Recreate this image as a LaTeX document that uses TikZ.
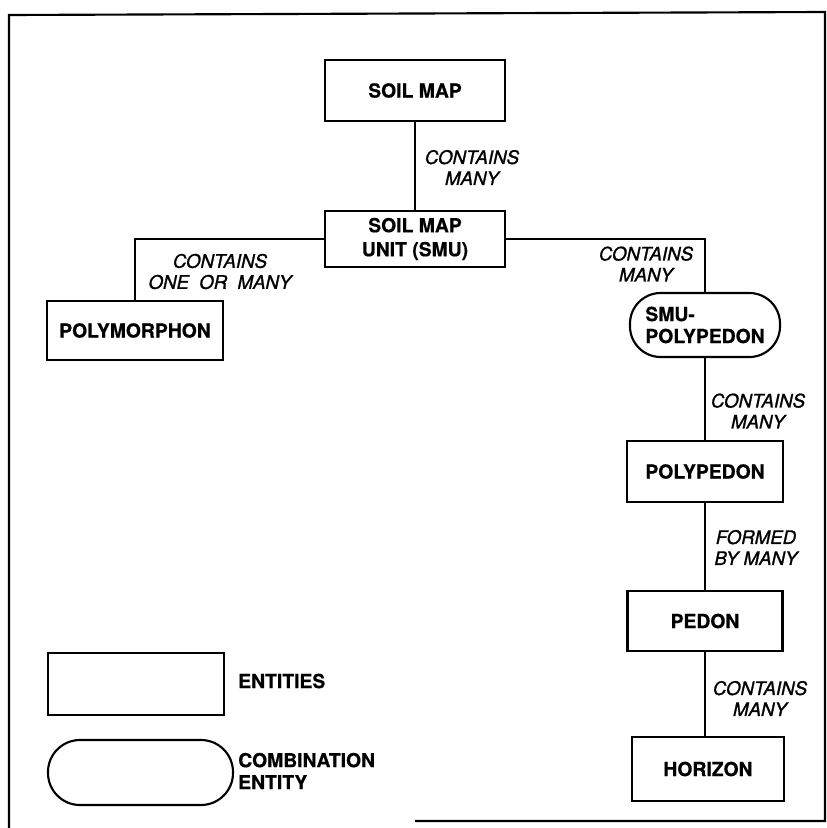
\documentclass[tikz,border=0pt]{standalone}
\usepackage{fontspec}
\setmainfont{TeX Gyre Heros}
\newfontface\relfont{TeX Gyre Heros Italic}[FakeBold=1.2]
\newfontface\entfont{TeX Gyre Heros Bold}[FakeBold=0.6]
\begin{document}
\begin{tikzpicture}[x=0.75pt,y=-0.75pt,
  entity/.style={draw, line width=1.6pt, inner sep=0pt, align=center,
    font=\fontsize{14.5}{18}\entfont},
  combo/.style={entity, rounded corners=23pt},
  rel/.style={inner sep=0pt, align=center, font=\fontsize{14}{15.75}\relfont},
  legendtext/.style={inner sep=0pt, anchor=west, align=left, font=\fontsize{14.5}{16.5}\entfont},
  conn/.style={line width=1.4pt},
  frame/.style={line width=1.6pt}]
\useasboundingbox (0,0) rectangle (827,828);
% frame
\coordinate (f1) at (9,828);
\coordinate (f2) at (9,15);
\coordinate (f3) at (825,12);
\coordinate (f4) at (825,821);
\coordinate (f5) at (415,821);
\draw[frame] (f1) -- (f2) -- (f3) -- (f4) -- (f5);

% entities
\node[entity, minimum width=135pt, minimum height=45.75pt] (soilmap) at (415,90.5) {SOIL MAP};
\node[entity, minimum width=135pt, minimum height=42pt] (smu) at (415,239) {SOIL MAP\\UNIT (SMU)};
\node[entity, minimum width=132pt, minimum height=44.25pt] (polymorphon) at (135,330.5) {POLYMORPHON};
\node[combo, minimum width=112.5pt, minimum height=48pt, font=\fontsize{14.5}{16.5}\entfont, align=left] (smupoly) at (705,325) {SMU-\\POLYPEDON};
\node[entity, minimum width=117pt, minimum height=45.75pt] (polypedon) at (705,471.5) {POLYPEDON};
\node[entity, minimum width=116.25pt, minimum height=45pt] (pedon) at (705,621) {PEDON};
\node[entity, minimum width=114pt, minimum height=48pt] (horizon) at (708,769) {HORIZON};

% connectors
\draw[conn] (soilmap.south) -- (soilmap.south |- smu.north);
\draw[conn] (smu.west) -| (polymorphon.north);
\draw[conn] (smu.east) -| (smupoly.north);
\draw[conn] (smupoly.south) -- (smupoly.south |- polypedon.north);
\draw[conn] (polypedon.south) -- (polypedon.south |- pedon.north);
\draw[conn] (pedon.south) -- (pedon.south |- horizon.north);

% relation labels
\node[rel] (l1) at (472,167.5) {CONTAINS\\MANY};
\node[rel] (l2) at (220,271.5) {CONTAINS\\ONE\hspace{0.55em}OR\hspace{0.55em}MANY};
\node[rel] (l3) at (646,264) {CONTAINS\\MANY};
\node[rel] (l4) at (758,411) {CONTAINS\\MANY};
\node[rel] (l5) at (756,547.5) {FORMED\\BY MANY};
\node[rel] (l6) at (760,698.5) {CONTAINS\\MANY};

% legend
\node[entity, minimum width=132pt, minimum height=46.5pt] (legrect) at (136,684) {};
\node[combo, minimum width=138.75pt, minimum height=48.75pt, rounded corners=24pt] (legcombo) at (140.5,772.5) {};
\node[legendtext] (legrecttext) at (238,681) {ENTITIES};
\node[legendtext] (legcombotext) at (238,771) {COMBINATION\\ENTITY};
\end{tikzpicture}
\end{document}
